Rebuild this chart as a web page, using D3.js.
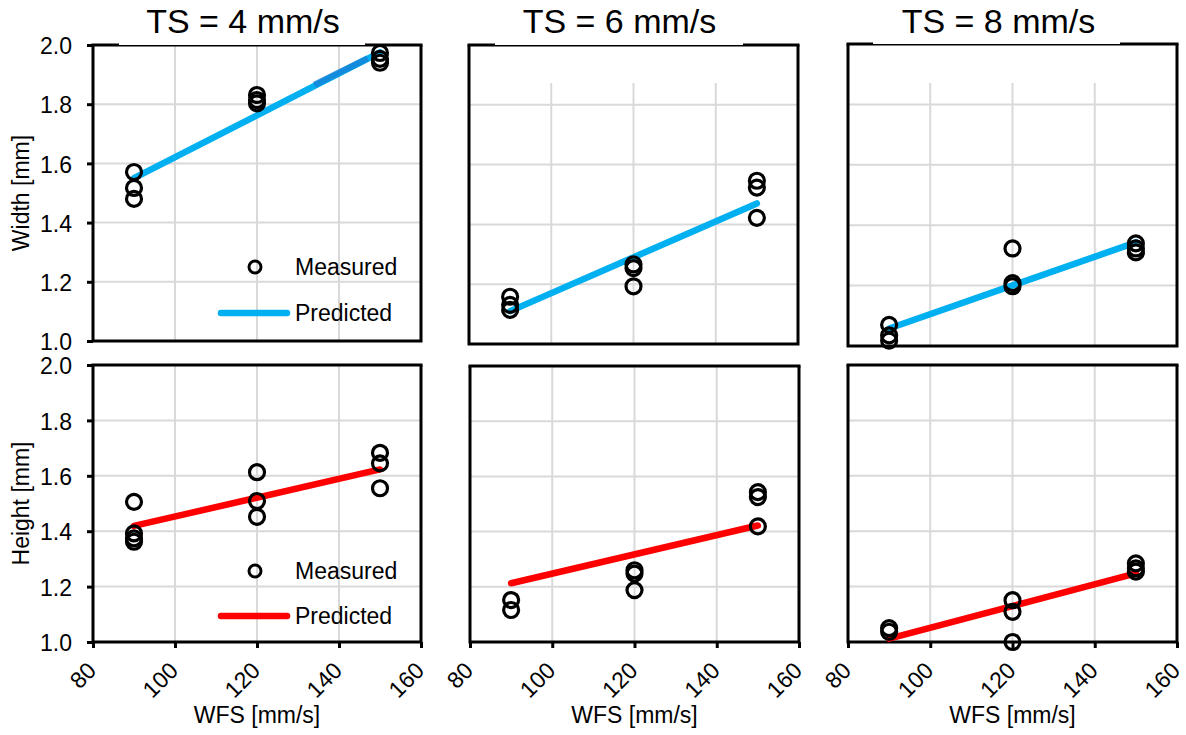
<!DOCTYPE html>
<html>
<head>
<meta charset="utf-8">
<script src="https://cdn.jsdelivr.net/npm/d3@7"></script>
<style>
  body { margin: 0; background: #fff; }
  text { font-family: "Liberation Sans", Arial, sans-serif; fill: #000; }
</style>
</head>
<body>
<svg id="chart" width="1186" height="735"></svg>
<script>
// ---- data ----
const wfsLevels = [90, 120, 150]
const wfsTicks = [80, 100, 120, 140, 160]
const yTicks = [1.0, 1.2, 1.4, 1.6, 1.8, 2.0]
const speedTitles = ["TS = 4 mm/s", "TS = 6 mm/s", "TS = 8 mm/s"]
const rowTitles = ["Width [mm]", "Height [mm]"]
const legendLabels = ["Measured", "Predicted"]

// measured repeats, one list per WFS level
const widthMeasured4 = [[1.571, 1.517, 1.48], [1.831, 1.814, 1.803], [1.973, 1.953, 1.94]]
const widthMeasured6 = [[1.158, 1.131, 1.114], [1.266, 1.254, 1.193], [1.546, 1.523, 1.422]]
const widthMeasured8 = [[1.07, 1.035, 1.018], [1.323, 1.208, 1.198], [1.34, 1.323, 1.31]]
const heightMeasured4 = [[1.506, 1.392, 1.374, 1.362], [1.613, 1.509, 1.452], [1.683, 1.645, 1.555]]
const heightMeasured6 = [[1.152, 1.116], [1.26, 1.248, 1.188], [1.543, 1.525, 1.419]]
const heightMeasured8 = [[1.05, 1.037], [1.151, 1.109, 1.0], [1.284, 1.266, 1.254]]

// predicted, at WFS 90 and 150
const predictedWfs = [90, 150]
const widthPredicted4 = [1.55, 1.975]
const widthPredicted6 = [1.11, 1.47]
const widthPredicted8 = [1.058, 1.343]
const heightPredicted4 = [1.419, 1.623]
const heightPredicted6 = [1.213, 1.422]
const heightPredicted8 = [1.012, 1.248]
// darker overlapping stretch on the first width line
const widthOverlay4 = [[134, 1.865], [147, 1.955]]

// ---- layout ----
const svg = d3.select("#chart")
const blue = "#00b0f0", red = "#ff0000"

const panels = [
  { left: 93, right: 421, top: 45, bottom: 341, gap: [119, 365], gridTop: 45, col: 0, row: 0,
    measured: widthMeasured4, predicted: widthPredicted4, color: blue },
  { left: 469, right: 798, top: 45, bottom: 344, gap: [495, 743], gridTop: 83, col: 1, row: 0,
    measured: widthMeasured6, predicted: widthPredicted6, color: blue },
  { left: 848, right: 1177, top: 44, bottom: 346, gap: [873, 1120], gridTop: 83, col: 2, row: 0,
    measured: widthMeasured8, predicted: widthPredicted8, color: blue },
  { left: 93, right: 421, top: 365, bottom: 642, col: 0, row: 1,
    measured: heightMeasured4, predicted: heightPredicted4, color: red },
  { left: 470, right: 799, top: 366, bottom: 642, col: 1, row: 1,
    measured: heightMeasured6, predicted: heightPredicted6, color: red },
  { left: 848, right: 1177, top: 365, bottom: 642, col: 2, row: 1,
    measured: heightMeasured8, predicted: heightPredicted8, color: red }
]

panels.forEach(drawPanel)

function drawPanel(p) {
  let x = d3.scaleLinear().domain([80, 160]).range([p.left, p.right])
  let y = d3.scaleLinear().domain([1, 2]).range([p.bottom, p.top])
  let g = svg.append("g")

  // gridlines
  g.selectAll(".vgrid")
    .data(wfsTicks.slice(1, -1))
    .join("line")
      .attr("x1", d => x(d)).attr("x2", d => x(d))
      .attr("y1", p.gridTop !== undefined ? p.gridTop : p.top).attr("y2", p.bottom)
      .attr("stroke", "#d9d9d9").attr("stroke-width", 2)
  g.selectAll(".hgrid")
    .data(yTicks.slice(1, -1))
    .join("line")
      .attr("x1", p.left).attr("x2", p.right)
      .attr("y1", d => y(d)).attr("y2", d => y(d))
      .attr("stroke", "#d9d9d9").attr("stroke-width", 2)

  // frame
  g.append("path")
    .attr("d", `M${p.left},${p.top}V${p.bottom}H${p.right}V${p.top}`)
    .attr("fill", "none").attr("stroke", "#000").attr("stroke-width", 3)
  if (p.gap) {
    g.append("path")
      .attr("d", `M${p.left - 1.5},${p.top}H${p.gap[0]}M${p.gap[1]},${p.top}H${p.right + 1.5}`)
      .attr("stroke", "#000").attr("stroke-width", 3)
    g.append("line")
      .attr("x1", p.gap[0]).attr("x2", p.gap[1])
      .attr("y1", p.top + 0.75).attr("y2", p.top + 0.75)
      .attr("stroke", "#000").attr("stroke-width", 1.5)
  } else {
    g.append("line")
      .attr("x1", p.left - 1.5).attr("x2", p.right + 1.5)
      .attr("y1", p.top).attr("y2", p.top)
      .attr("stroke", "#000").attr("stroke-width", 3)
  }

  // predicted line
  let line = d3.line().x(d => x(d[0])).y(d => y(d[1]))
  g.append("path")
    .datum(predictedWfs.map((w, i) => [w, p.predicted[i]]))
    .attr("d", line)
    .attr("fill", "none").attr("stroke", p.color)
    .attr("stroke-width", 6.5).attr("stroke-linecap", "round")
  if (p.col === 0 && p.row === 0) {
    g.append("path")
      .datum(widthOverlay4)
      .attr("d", line)
      .attr("fill", "none").attr("stroke", "#1682d8")
      .attr("stroke-width", 6.5).attr("opacity", 0.8)
  }

  // measured circles
  let pts = []
  p.measured.forEach((vals, i) => vals.forEach(v => pts.push([wfsLevels[i], v])))
  g.selectAll(".pt")
    .data(pts)
    .join("circle")
      .attr("cx", d => x(d[0])).attr("cy", d => y(d[1])).attr("r", 7.5)
      .attr("fill", "none").attr("stroke", "#000").attr("stroke-width", 3.2)

  // title
  if (p.row === 0) {
    svg.append("text")
      .attr("x", (p.left + p.right) / 2 - 14).attr("y", 33)
      .attr("text-anchor", "middle").attr("font-size", 34)
      .text(speedTitles[p.col])
  }

  // y axis on the left column
  if (p.col === 0) {
    let ax = svg.append("g")
      .attr("transform", `translate(${p.left},0)`)
      .call(d3.axisLeft(y).tickValues(yTicks).tickSize(6).tickPadding(15).tickFormat(d3.format(".1f")))
    ax.select(".domain").remove()
    ax.selectAll(".tick line").attr("stroke", "#000").attr("stroke-width", 3)
    ax.selectAll(".tick text")
      .attr("font-size", 23).attr("font-family", "Liberation Sans, Arial, sans-serif")
      .attr("dy", "0.38em")

    svg.append("text")
      .attr("transform", `translate(29,${(p.top + p.bottom) / 2}) rotate(-90)`)
      .attr("text-anchor", "middle").attr("font-size", 23)
      .text(rowTitles[p.row])

    // legend
    let lg = svg.append("g")
    let ly = p.row === 0 ? [267, 313] : [571, 616]
    lg.append("circle")
      .attr("cx", 255).attr("cy", ly[0]).attr("r", 6)
      .attr("fill", "none").attr("stroke", "#000").attr("stroke-width", 3)
    lg.append("line")
      .attr("x1", 221).attr("x2", 287).attr("y1", ly[1]).attr("y2", ly[1])
      .attr("stroke", p.color).attr("stroke-width", 6.5).attr("stroke-linecap", "round")
    lg.selectAll("text")
      .data(legendLabels)
      .join("text")
        .attr("x", 295).attr("y", (d, i) => ly[i]).attr("dy", "0.36em")
        .attr("font-size", 23)
        .text(d => d)
  }

  // x axis on the bottom row
  if (p.row === 1) {
    let ax = svg.append("g")
      .attr("transform", `translate(0,${p.bottom})`)
      .call(d3.axisBottom(x).tickValues(wfsTicks).tickSize(6))
    ax.select(".domain").remove()
    ax.selectAll(".tick line").attr("stroke", "#000").attr("stroke-width", 3)
    ax.selectAll(".tick text")
      .attr("font-size", 23).attr("font-family", "Liberation Sans, Arial, sans-serif")
      .attr("x", 0).attr("y", 0).attr("dy", 0)
      .attr("transform", "translate(4,30) rotate(-45)")
      .style("text-anchor", "end")

    svg.append("text")
      .attr("x", (p.left + p.right) / 2).attr("y", 723)
      .attr("text-anchor", "middle").attr("font-size", 23)
      .text("WFS [mm/s]")
  }
}
</script>
</body>
</html>
